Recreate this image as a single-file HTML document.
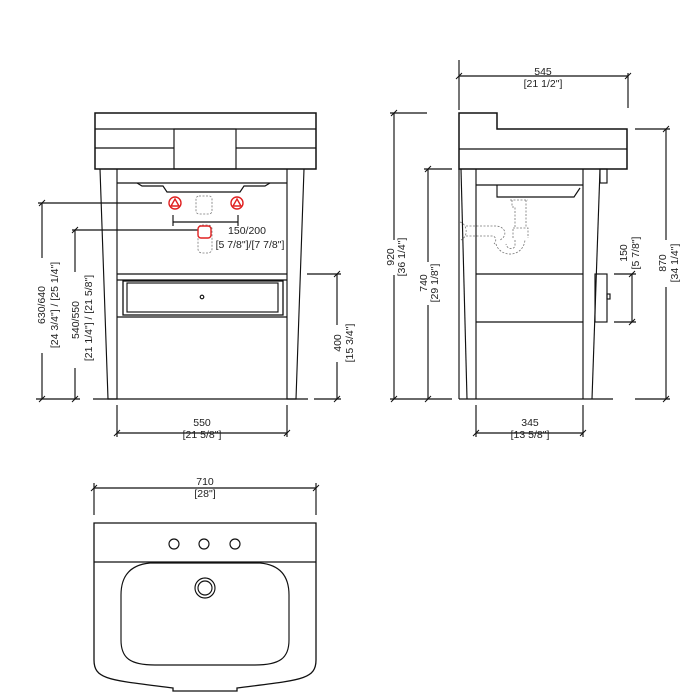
<!DOCTYPE html>
<html><head><meta charset="utf-8"><style>
html,body{margin:0;padding:0;background:#fff}
svg{display:block}
text{font-family:"Liberation Sans",sans-serif;font-size:10.5px;fill:#222;text-anchor:middle}
</style></head><body>
<svg width="700" height="700" viewBox="0 0 700 700" xmlns="http://www.w3.org/2000/svg">
<g fill="none" stroke="#111" stroke-width="1.15">
<!-- FRONT VIEW -->
<rect x="95" y="113" width="221" height="56" stroke-width="1.5"/>
<line x1="95" y1="129" x2="316" y2="129"/>
<line x1="95" y1="148" x2="174" y2="148"/>
<line x1="236" y1="148" x2="316" y2="148"/>
<rect x="174" y="129" width="62" height="40"/>
<polyline points="100,169 108,399 117,399 117,169"/>
<polyline points="304,169 296,399 287,399 287,169"/>
<line x1="117" y1="183" x2="287" y2="183"/>
<path d="M137,183 L142,186 L163,186 L167,192 L240,192 L244,186 L265,186 L270,183"/>
<line x1="117" y1="274" x2="287" y2="274"/>
<line x1="117" y1="280" x2="287" y2="280"/>
<rect x="123" y="281" width="160" height="34" stroke-width="1.3"/>
<rect x="127" y="283" width="151" height="29"/>
<line x1="117" y1="317" x2="287" y2="317"/>
<circle cx="202" cy="297" r="1.8"/>
<line x1="93" y1="399" x2="308" y2="399"/>
<!-- front dims -->
<line x1="42" y1="203" x2="42" y2="258"/><line x1="42" y1="353" x2="42" y2="399"/>
<line x1="38" y1="203" x2="162" y2="203"/>
<line x1="75" y1="230" x2="75" y2="272"/><line x1="75" y1="368" x2="75" y2="399"/>
<line x1="72" y1="230" x2="198" y2="230"/>
<line x1="36" y1="399" x2="80" y2="399"/>
<line x1="337" y1="274" x2="337" y2="325"/><line x1="337" y1="362" x2="337" y2="399"/>
<line x1="307" y1="274" x2="341" y2="274"/>
<line x1="314" y1="399" x2="341" y2="399"/>
<line x1="117" y1="405" x2="117" y2="437"/><line x1="287" y1="405" x2="287" y2="437"/>
<line x1="117" y1="433" x2="287" y2="433"/>
<line x1="173" y1="222" x2="238" y2="222"/>
<line x1="173" y1="215" x2="173" y2="226"/><line x1="238" y1="215" x2="238" y2="226"/>
<!-- ticks -->
<g stroke-width="1">
<path d="M39,206 L45,200 M39,402 L45,396 M72,233 L78,227 M72,402 L78,396 M334,277 L340,271 M334,402 L340,396 M114,436 L120,430 M284,436 L290,430"/>
<path d="M391,116 L397,110 M391,402 L397,396 M425,172 L431,166 M425,402 L431,396 M663,132 L669,126 M663,402 L669,396 M629,277 L635,271 M629,325 L635,319 M473,436 L479,430 M580,436 L586,430 M456,79 L462,73 M625,79 L631,73 M91,491 L97,485 M313,491 L319,485"/>
</g>
<g stroke="#777" stroke-dasharray="2,1.5" stroke-width="0.8">
<rect x="196" y="196" width="16" height="18" rx="3"/>
<rect x="198" y="225" width="14" height="28" rx="4"/>
</g>
<g stroke="#e02020" stroke-width="1.4">
<circle cx="175" cy="203" r="6"/><path d="M175,199 L179,206 L171,206 Z"/>
<circle cx="237" cy="203" r="6"/><path d="M237,199 L241,206 L233,206 Z"/>
<rect x="198" y="226" width="13" height="12" rx="3"/>
</g>

<!-- SIDE VIEW -->
<path d="M459,113 L497,113 L497,129 L627,129 L627,169 L459,169 Z" stroke-width="1.5"/>
<line x1="459" y1="149" x2="627" y2="149"/>
<line x1="459" y1="169" x2="459" y2="399"/>
<line x1="461" y1="169" x2="467" y2="399"/>
<line x1="476" y1="169" x2="476" y2="399"/>
<line x1="583" y1="169" x2="583" y2="399"/>
<line x1="600" y1="169" x2="592" y2="399"/>
<rect x="600" y="169" width="7" height="14"/>
<line x1="476" y1="185" x2="583" y2="185"/>
<path d="M497,185 L497,197 L574,197 L580,188"/>
<line x1="476" y1="274" x2="583" y2="274"/>
<line x1="476" y1="322" x2="583" y2="322"/>
<rect x="595" y="274" width="12" height="48"/>
<rect x="607" y="294" width="3" height="5"/>
<line x1="459" y1="399" x2="613" y2="399"/>
<g stroke="#777" stroke-dasharray="2,1.5" stroke-width="0.8">
<path d="M510,200 L528,200 M512,200 L512,207 L515,207 L515,228 M526,200 L526,228 M513,228 L528,228 L528,238 M513,238 L513,228"/>
<path d="M460,222 C467,224 469,236 461,240 M466,226 L495,226 C506,226 508,236 500,240 M466,236 L492,236 C496,236 497,241 494,244"/>
<path d="M496,244 C500,258 523,258 525,240 M515,240 L515,245 C515,250 507,250 506,244"/>
</g>
<!-- side dims -->
<line x1="459" y1="60" x2="459" y2="110"/><line x1="628" y1="73" x2="628" y2="108"/>
<line x1="459" y1="76" x2="628" y2="76"/>
<line x1="394" y1="113" x2="394" y2="240"/><line x1="394" y1="275" x2="394" y2="399"/>
<line x1="390" y1="113" x2="427" y2="113"/>
<line x1="428" y1="169" x2="428" y2="262"/><line x1="428" y1="305" x2="428" y2="399"/>
<line x1="424" y1="169" x2="452" y2="169"/>
<line x1="390" y1="399" x2="452" y2="399"/>
<line x1="666" y1="129" x2="666" y2="240"/><line x1="666" y1="287" x2="666" y2="399"/>
<line x1="635" y1="129" x2="670" y2="129"/>
<line x1="635" y1="399" x2="670" y2="399"/>
<line x1="632" y1="274" x2="632" y2="322"/>
<line x1="614" y1="274" x2="636" y2="274"/><line x1="614" y1="322" x2="636" y2="322"/>
<line x1="476" y1="405" x2="476" y2="437"/><line x1="583" y1="405" x2="583" y2="437"/>
<line x1="476" y1="433" x2="583" y2="433"/>

<!-- TOP VIEW -->
<line x1="94" y1="483" x2="94" y2="515"/><line x1="316" y1="483" x2="316" y2="515"/>
<line x1="94" y1="488" x2="316" y2="488"/>
<path d="M94,523 L316,523 L316,660 C316,680 300,680 237,688 L237,691 L173,691 L173,688 C110,680 94,680 94,660 Z" stroke-width="1.3"/>
<line x1="94" y1="562" x2="316" y2="562"/>
<circle cx="174" cy="544" r="5"/><circle cx="204" cy="544" r="5"/><circle cx="235" cy="544" r="5"/>
<path d="M150,563 L260,563 C282,565 289,578 289,595 L289,640 C289,658 280,665 255,665 L155,665 C130,665 121,658 121,640 L121,595 C121,578 128,565 150,563 Z"/>
<circle cx="205" cy="588" r="10"/><circle cx="205" cy="588" r="7"/>
</g>
<!-- text -->
<text x="247" y="234" font-size="11">150/200</text>
<text x="250" y="248">[5 7/8"]/[7 7/8"]</text>
<text x="202" y="426">550</text><text x="202" y="438">[21 5/8"]</text>
<text x="530" y="426">345</text><text x="530" y="438">[13 5/8"]</text>
<text x="543" y="75">545</text><text x="543" y="87">[21 1/2"]</text>
<text x="205" y="485">710</text><text x="205" y="497">[28"]</text>
<text transform="translate(45,305) rotate(-90)">630/640</text>
<text transform="translate(58,305) rotate(-90)">[24 3/4"] / [25 1/4"]</text>
<text transform="translate(79,320) rotate(-90)">540/550</text>
<text transform="translate(92,318) rotate(-90)">[21 1/4"] / [21 5/8"]</text>
<text transform="translate(341,343) rotate(-90)">400</text>
<text transform="translate(353,343) rotate(-90)">[15 3/4"]</text>
<text transform="translate(394,257) rotate(-90)">920</text>
<text transform="translate(405,257) rotate(-90)">[36 1/4"]</text>
<text transform="translate(427,283) rotate(-90)">740</text>
<text transform="translate(438,283) rotate(-90)">[29 1/8"]</text>
<text transform="translate(627,253) rotate(-90)">150</text>
<text transform="translate(639,253) rotate(-90)">[5 7/8"]</text>
<text transform="translate(666,263) rotate(-90)">870</text>
<text transform="translate(678,263) rotate(-90)">[34 1/4"]</text>
</svg>
</body></html>
